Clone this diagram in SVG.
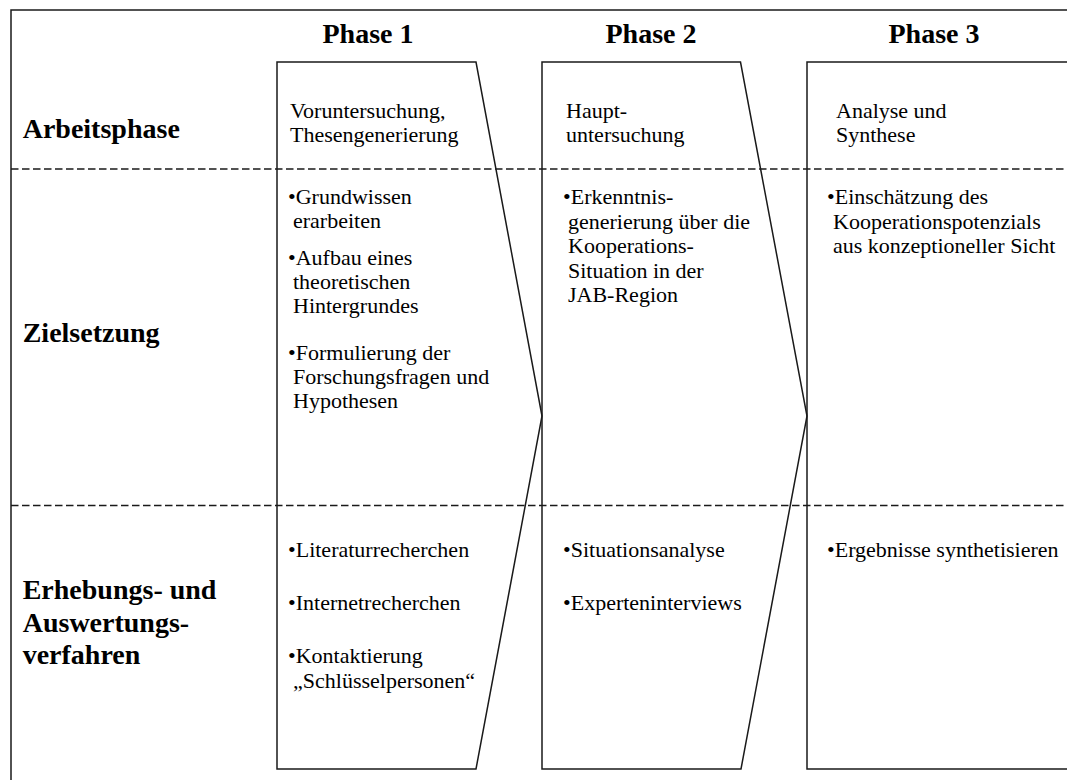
<svg xmlns="http://www.w3.org/2000/svg" width="1067" height="780" viewBox="0 0 1067 780">
  <style>
    text { font-family: "Liberation Serif", "Times New Roman", serif; fill: #000; }
    .title { font-size: 28px; font-weight: bold; }
    .row { font-size: 28px; font-weight: bold; }
    .body { font-size: 22px; }
    .frame { fill: none; stroke: #1a1a1a; stroke-width: 1.5; }
    .divider { fill: none; stroke: #1a1a1a; stroke-width: 1.3; stroke-dasharray: 7.5 3.5; }
    .phase { fill: none; stroke: #1a1a1a; stroke-width: 1.5; stroke-linejoin: miter; }
  </style>
  <rect width="1067" height="780" fill="#fff"/>

  <!-- table frame and row dividers -->
  <g id="grid">
    <path class="frame" d="M11,780 V10 H1067"/>
    <line class="divider" x1="11" y1="169" x2="1067" y2="169"/>
    <line class="divider" x1="11" y1="505.5" x2="1067" y2="505.5"/>
  </g>

  <!-- row headings -->
  <g id="row-arbeitsphase">
    <text class="row" x="22.7" y="138">Arbeitsphase</text>
  </g>
  <g id="row-zielsetzung">
    <text class="row" x="22.7" y="342">Zielsetzung</text>
  </g>
  <g id="row-verfahren">
    <text class="row" x="22.7" y="599">Erhebungs- und</text>
    <text class="row" x="22.7" y="631.5">Auswertungs-</text>
    <text class="row" x="22.7" y="663.5">verfahren</text>
  </g>

  <!-- phase 1 -->
  <g id="phase1">
    <text class="title" x="368" y="43" text-anchor="middle">Phase 1</text>
    <path class="phase" d="M277,62 H476 L542,416 L476,769 H277 Z"/>
    <text class="body" x="290" y="118">Voruntersuchung,</text>
    <text class="body" x="290" y="142">Thesengenerierung</text>
    <text class="body" x="288" y="204">•Grundwissen</text>
    <text class="body" x="293" y="228">erarbeiten</text>
    <text class="body" x="288" y="265">•Aufbau eines</text>
    <text class="body" x="293" y="289">theoretischen</text>
    <text class="body" x="293" y="313">Hintergrundes</text>
    <text class="body" x="288" y="360">•Formulierung der</text>
    <text class="body" x="293" y="384">Forschungsfragen und</text>
    <text class="body" x="293" y="408">Hypothesen</text>
    <text class="body" x="288" y="557">•Literaturrecherchen</text>
    <text class="body" x="288" y="610">•Internetrecherchen</text>
    <text class="body" x="288" y="663">•Kontaktierung</text>
    <text class="body" x="293" y="688">„Schlüsselpersonen“</text>
  </g>

  <!-- phase 2 -->
  <g id="phase2">
    <text class="title" x="651" y="43" text-anchor="middle">Phase 2</text>
    <path class="phase" d="M542,62 H740.5 L807,416 L741,769 H542 Z"/>
    <text class="body" x="566" y="118">Haupt-</text>
    <text class="body" x="566" y="142">untersuchung</text>
    <text class="body" x="563" y="204">•Erkenntnis-</text>
    <text class="body" x="568" y="228.5">generierung über die</text>
    <text class="body" x="568" y="253">Kooperations-</text>
    <text class="body" x="568" y="277.5">Situation in der</text>
    <text class="body" x="568" y="302">JAB-Region</text>
    <text class="body" x="563" y="557">•Situationsanalyse</text>
    <text class="body" x="563" y="610">•Experteninterviews</text>
  </g>

  <!-- phase 3 -->
  <g id="phase3">
    <text class="title" x="934" y="43" text-anchor="middle">Phase 3</text>
    <path class="phase" d="M1070,62 H807 V769 H1070"/>
    <text class="body" x="836" y="118">Analyse und</text>
    <text class="body" x="836" y="142">Synthese</text>
    <text class="body" x="827" y="204">•Einschätzung des</text>
    <text class="body" x="833" y="228.5">Kooperationspotenzials</text>
    <text class="body" x="833" y="253">aus konzeptioneller Sicht</text>
    <text class="body" x="827" y="557">•Ergebnisse synthetisieren</text>
  </g>
</svg>
